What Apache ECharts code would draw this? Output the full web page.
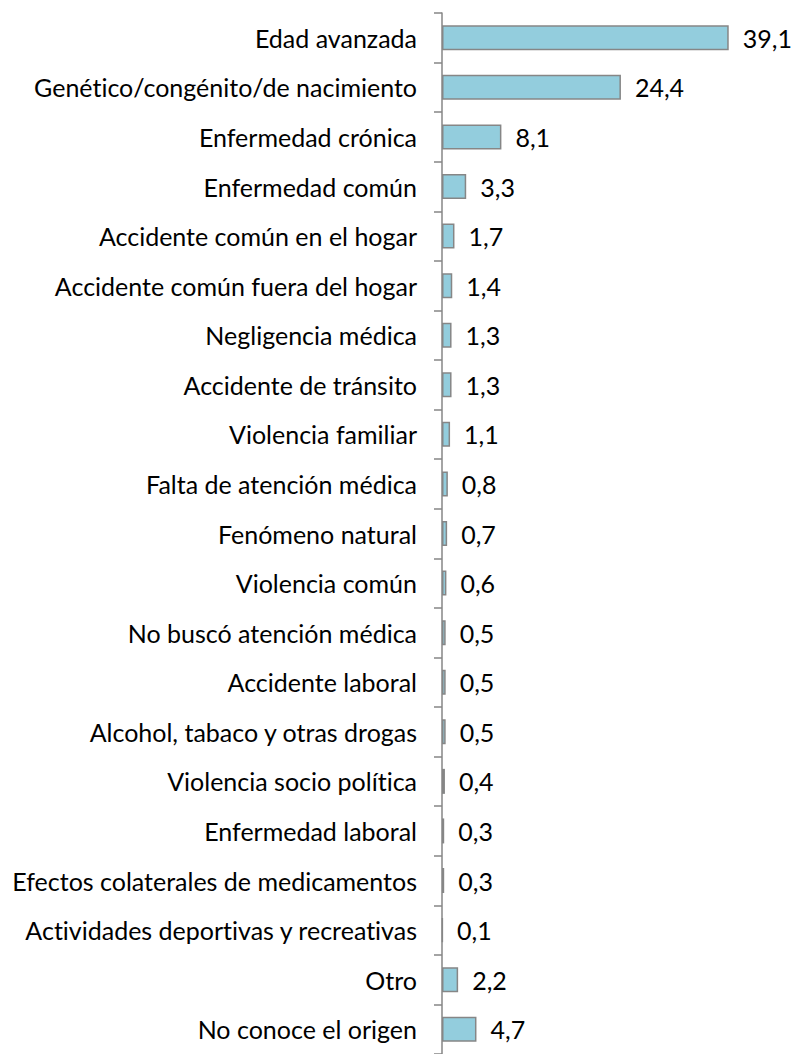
<!DOCTYPE html>
<html><head><meta charset="utf-8">
<script src="https://cdn.jsdelivr.net/npm/echarts@6/dist/echarts.min.js"></script>
<style>html,body{margin:0;padding:0;background:#fff}#c{width:798px;height:1054px}#c text{font-variant-ligatures:none;font-feature-settings:"liga" 0,"clig" 0}</style>
</head><body><div id="c"></div>
<script>
const categories = ["Edad avanzada","Genético/congénito/de nacimiento","Enfermedad crónica","Enfermedad común","Accidente común en el hogar","Accidente común fuera del hogar","Negligencia médica","Accidente de tránsito","Violencia familiar","Falta de atención médica","Fenómeno natural","Violencia común","No buscó atención médica","Accidente laboral","Alcohol, tabaco y otras drogas","Violencia socio política","Enfermedad laboral","Efectos colaterales de medicamentos","Actividades deportivas y recreativas","Otro","No conoce el origen"];
const values = [39.1,24.4,8.1,3.3,1.7,1.4,1.3,1.3,1.1,0.8,0.7,0.6,0.5,0.5,0.5,0.4,0.3,0.3,0.1,2.2,4.7];
const chart = echarts.init(document.getElementById('c'), null, {renderer:'svg'});
const font = 'Lato';
chart.setOption({
  animation:false,
  grid:{left:442, top:13, width:330, height:1042, containLabel:false},
  xAxis:{type:'value', min:0, max:45, show:false},
  yAxis:{type:'category', data:categories, inverse:true,
    axisLine:{lineStyle:{color:'#868686', width:1.5}},
    axisTick:{show:true, length:8, lineStyle:{color:'#868686', width:1.5}},
    axisLabel:{margin:25, color:'#000', fontFamily:font, fontSize:25}},
  series:[{type:'bar', data:values, barWidth:25,
    itemStyle:{color:'#93CDDD', borderColor:'#868686', borderWidth:1.5},
    label:{show:true, position:'right', distance:14, color:'#000', fontFamily:font, fontSize:25,
      formatter:p=>String(p.value).replace('.',',')}}]
});
</script></body></html>
